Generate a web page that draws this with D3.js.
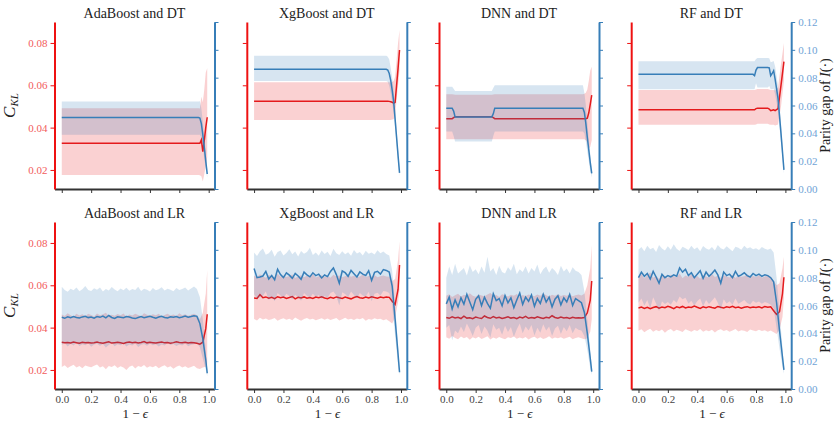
<!DOCTYPE html>
<html>
<head>
<meta charset="utf-8">
<script src="https://cdn.jsdelivr.net/npm/d3@7"></script>
<style>
  body { margin: 0; background: #fff; }
  svg { display: block; }
  text { font-family: "Liberation Serif", "DejaVu Serif", serif; }
</style>
</head>
<body>
<svg width="836" height="423"></svg>
<script>
// ---- data ----
var titles = ["AdaBoost and DT", "XgBoost and DT", "DNN and DT", "RF and DT",
  "AdaBoost and LR", "XgBoost and LR", "DNN and LR", "RF and LR"];

var xTicks = [0, 0.2, 0.4, 0.6, 0.8, 1.0];
var leftTicks = [0.02, 0.04, 0.06, 0.08];
var rightTicks = [0, 0.02, 0.04, 0.06, 0.08, 0.10, 0.12];

// DT panels: mostly flat, given at breakpoints
var adaDT_x = [0, 0.93, 0.94, 0.95, 0.96, 0.97, 0.98, 0.99];
var adaDT_red = [0.0326, 0.0326, 0.0326, 0.0342, 0.0287, 0.0340, 0.0400, 0.0449];
var adaDT_redLo = [0.0176, 0.0176, 0.0175, 0.0170, 0.0145, 0.0180, 0.0220, 0.0260];
var adaDT_redHi = [0.0491, 0.0491, 0.0490, 0.0546, 0.0520, 0.0580, 0.0660, 0.0680];
var adaDT_blue = [0.0513, 0.0513, 0.0510, 0.0470, 0.0390, 0.0300, 0.0200, 0.0108];
var adaDT_blueLo = [0.0390, 0.0390, 0.0390, 0.0370, 0.0300, 0.0220, 0.0140, 0.0080];
var adaDT_blueHi = [0.0629, 0.0629, 0.0630, 0.0580, 0.0480, 0.0380, 0.0260, 0.0140];

var xgbDT_x = [0, 0.90, 0.91, 0.92, 0.93, 0.94, 0.95, 0.96, 0.97, 0.98, 0.99];
var xgbDT_red = [0.0525, 0.0525, 0.0525, 0.0524, 0.0522, 0.0520, 0.0515, 0.0520, 0.0600, 0.0680, 0.0767];
var xgbDT_redLo = [0.0436, 0.0436, 0.0436, 0.0436, 0.0436, 0.0438, 0.0440, 0.0460, 0.0530, 0.0600, 0.0670];
var xgbDT_redHi = [0.0614, 0.0614, 0.0614, 0.0614, 0.0612, 0.0615, 0.0620, 0.0640, 0.0720, 0.0800, 0.0861];
var xgbDT_blue = [0.0860, 0.0860, 0.0855, 0.0830, 0.0780, 0.0710, 0.0630, 0.0500, 0.0370, 0.0240, 0.0116];
var xgbDT_blueLo = [0.0776, 0.0776, 0.0770, 0.0740, 0.0690, 0.0620, 0.0550, 0.0440, 0.0320, 0.0200, 0.0090];
var xgbDT_blueHi = [0.0957, 0.0957, 0.0950, 0.0930, 0.0870, 0.0800, 0.0710, 0.0570, 0.0430, 0.0290, 0.0150];

var dnnDT_x = [0, 0.04, 0.05, 0.06, 0.31, 0.32, 0.33, 0.93, 0.94, 0.95, 0.96, 0.97, 0.98, 0.99];
var dnnDT_red = [0.0442, 0.0442, 0.0447, 0.0451, 0.0451, 0.0447, 0.0442, 0.0442, 0.0442, 0.0442, 0.0445, 0.0470, 0.0510, 0.0554];
var dnnDT_redLo = [0.0345, 0.0345, 0.0345, 0.0345, 0.0345, 0.0345, 0.0345, 0.0345, 0.0345, 0.0340, 0.0330, 0.0300, 0.0310, 0.0340];
var dnnDT_redHi = [0.0558, 0.0558, 0.0557, 0.0555, 0.0555, 0.0557, 0.0558, 0.0558, 0.0560, 0.0565, 0.0580, 0.0620, 0.0670, 0.0688];
var dnnDT_blue = [0.0581, 0.0581, 0.0560, 0.0518, 0.0518, 0.0540, 0.0581, 0.0581, 0.0550, 0.0470, 0.0370, 0.0280, 0.0190, 0.0113];
var dnnDT_blueLo = [0.0414, 0.0414, 0.0380, 0.0342, 0.0342, 0.0380, 0.0414, 0.0414, 0.0400, 0.0340, 0.0270, 0.0200, 0.0130, 0.0080];
var dnnDT_blueHi = [0.0735, 0.0735, 0.0720, 0.0704, 0.0704, 0.0725, 0.0745, 0.0745, 0.0690, 0.0600, 0.0480, 0.0360, 0.0250, 0.0140];

var rfDT_x = [0, 0.78, 0.79, 0.80, 0.81, 0.88, 0.89, 0.90, 0.91, 0.92, 0.93, 0.95, 0.97, 0.99];
var rfDT_red = [0.0484, 0.0484, 0.0484, 0.0490, 0.0492, 0.0492, 0.0488, 0.0480, 0.0482, 0.0484, 0.0480, 0.0490, 0.0600, 0.0712];
var rfDT_redLo = [0.0413, 0.0413, 0.0413, 0.0415, 0.0418, 0.0418, 0.0415, 0.0413, 0.0413, 0.0413, 0.0410, 0.0415, 0.0500, 0.0620];
var rfDT_redHi = [0.0578, 0.0578, 0.0578, 0.0580, 0.0582, 0.0582, 0.0580, 0.0578, 0.0578, 0.0578, 0.0575, 0.0590, 0.0700, 0.0800];
var rfDT_blue = [0.0824, 0.0824, 0.0815, 0.0855, 0.0873, 0.0873, 0.0870, 0.0814, 0.0830, 0.0850, 0.0790, 0.0650, 0.0400, 0.0137];
var rfDT_blueLo = [0.0716, 0.0716, 0.0716, 0.0760, 0.0730, 0.0730, 0.0740, 0.0716, 0.0716, 0.0720, 0.0680, 0.0560, 0.0330, 0.0110];
var rfDT_blueHi = [0.0918, 0.0918, 0.0918, 0.0935, 0.0942, 0.0942, 0.0940, 0.0910, 0.0915, 0.0920, 0.0880, 0.0740, 0.0470, 0.0160];

// LR panels: noisy, shared grid of 1 - eps
var xLR = [
  0, 0.02, 0.04, 0.06, 0.08, 0.10, 0.12, 0.14, 0.16, 0.18,
  0.20, 0.22, 0.24, 0.26, 0.28, 0.30, 0.32, 0.34, 0.36, 0.38,
  0.40, 0.42, 0.44, 0.46, 0.48, 0.50, 0.52, 0.54, 0.56, 0.58,
  0.60, 0.62, 0.64, 0.66, 0.68, 0.70, 0.72, 0.74, 0.76, 0.78,
  0.80, 0.82, 0.84, 0.86, 0.88, 0.90, 0.92, 0.94, 0.96, 0.98,
  0.99];

var adaLR_red = [
  0.0331, 0.0328, 0.0330, 0.0327, 0.0332, 0.0329, 0.0326, 0.0331, 0.0328, 0.0330,
  0.0327, 0.0329, 0.0332, 0.0328, 0.0326, 0.0330, 0.0333, 0.0327, 0.0329, 0.0331,
  0.0328, 0.0325, 0.0330, 0.0332, 0.0329, 0.0331, 0.0327, 0.0330, 0.0334, 0.0328,
  0.0331, 0.0329, 0.0327, 0.0330, 0.0332, 0.0328, 0.0330, 0.0326, 0.0329, 0.0333,
  0.0330, 0.0328, 0.0331, 0.0327, 0.0330, 0.0329, 0.0326, 0.0322, 0.0331, 0.0395,
  0.0463];
var adaLR_redLo = [
  0.0214, 0.0222, 0.0209, 0.0218, 0.0225, 0.0212, 0.0219, 0.0208, 0.0221, 0.0216,
  0.0213, 0.0220, 0.0226, 0.0211, 0.0217, 0.0203, 0.0219, 0.0214, 0.0222, 0.0209,
  0.0218, 0.0212, 0.0200, 0.0215, 0.0221, 0.0207, 0.0219, 0.0214, 0.0223, 0.0210,
  0.0217, 0.0213, 0.0220, 0.0208, 0.0216, 0.0222, 0.0211, 0.0218, 0.0206, 0.0215,
  0.0221, 0.0212, 0.0217, 0.0209, 0.0214, 0.0220, 0.0208, 0.0205, 0.0212, 0.0215,
  0.0225];
var adaLR_redHi = [
  0.0462, 0.0455, 0.0468, 0.0459, 0.0451, 0.0465, 0.0457, 0.0463, 0.0454, 0.0466,
  0.0460, 0.0452, 0.0467, 0.0458, 0.0463, 0.0470, 0.0455, 0.0461, 0.0456, 0.0464,
  0.0459, 0.0467, 0.0453, 0.0462, 0.0457, 0.0465, 0.0460, 0.0454, 0.0468, 0.0461,
  0.0456, 0.0463, 0.0458, 0.0466, 0.0452, 0.0460, 0.0465, 0.0457, 0.0462, 0.0455,
  0.0468, 0.0459, 0.0463, 0.0456, 0.0461, 0.0465, 0.0458, 0.0440, 0.0470, 0.0560,
  0.0672];
var adaLR_blue = [
  0.0515, 0.0508, 0.0519, 0.0512, 0.0521, 0.0514, 0.0510, 0.0518, 0.0523, 0.0513,
  0.0517, 0.0509, 0.0520, 0.0515, 0.0524, 0.0511, 0.0528, 0.0514, 0.0507, 0.0519,
  0.0516, 0.0512, 0.0521, 0.0517, 0.0510, 0.0506, 0.0514, 0.0520, 0.0513, 0.0518,
  0.0522, 0.0515, 0.0509, 0.0517, 0.0523, 0.0514, 0.0511, 0.0519, 0.0516, 0.0521,
  0.0513, 0.0518, 0.0524, 0.0516, 0.0521, 0.0527, 0.0522, 0.0470, 0.0360, 0.0210,
  0.0113];
var adaLR_blueLo = [
  0.0318, 0.0330, 0.0305, 0.0325, 0.0312, 0.0333, 0.0309, 0.0321, 0.0314, 0.0328,
  0.0303, 0.0319, 0.0326, 0.0311, 0.0323, 0.0298, 0.0317, 0.0331, 0.0308, 0.0322,
  0.0315, 0.0327, 0.0306, 0.0320, 0.0313, 0.0329, 0.0302, 0.0318, 0.0324, 0.0310,
  0.0327, 0.0314, 0.0321, 0.0305, 0.0319, 0.0312, 0.0330, 0.0316, 0.0323, 0.0309,
  0.0320, 0.0313, 0.0328, 0.0307, 0.0318, 0.0322, 0.0330, 0.0300, 0.0220, 0.0140,
  0.0090];
var adaLR_blueHi = [
  0.0735, 0.0712, 0.0698, 0.0721, 0.0709, 0.0730, 0.0703, 0.0716, 0.0740, 0.0711,
  0.0705, 0.0724, 0.0713, 0.0729, 0.0700, 0.0718, 0.0708, 0.0733, 0.0715, 0.0702,
  0.0722, 0.0710, 0.0727, 0.0706, 0.0719, 0.0712, 0.0735, 0.0704, 0.0720, 0.0714,
  0.0701, 0.0726, 0.0709, 0.0717, 0.0731, 0.0707, 0.0721, 0.0713, 0.0703, 0.0725,
  0.0711, 0.0719, 0.0730, 0.0708, 0.0722, 0.0736, 0.0718, 0.0660, 0.0500, 0.0280,
  0.0140];

var xgbLR_red = [
  0.0540, 0.0538, 0.0556, 0.0541, 0.0545, 0.0539, 0.0543, 0.0537, 0.0546, 0.0541,
  0.0544, 0.0538, 0.0542, 0.0547, 0.0536, 0.0543, 0.0540, 0.0545, 0.0539, 0.0542,
  0.0538, 0.0544, 0.0541, 0.0546, 0.0540, 0.0537, 0.0543, 0.0539, 0.0545, 0.0541,
  0.0538, 0.0544, 0.0540, 0.0536, 0.0542, 0.0547, 0.0541, 0.0539, 0.0544, 0.0540,
  0.0546, 0.0542, 0.0539, 0.0544, 0.0541, 0.0545, 0.0543, 0.0525, 0.0510, 0.0580,
  0.0696];
var xgbLR_redLo = [
  0.0441, 0.0434, 0.0447, 0.0438, 0.0443, 0.0436, 0.0440, 0.0445, 0.0432, 0.0439,
  0.0444, 0.0437, 0.0442, 0.0435, 0.0448, 0.0439, 0.0433, 0.0441, 0.0446, 0.0438,
  0.0442, 0.0435, 0.0440, 0.0444, 0.0437, 0.0443, 0.0436, 0.0441, 0.0445, 0.0434,
  0.0440, 0.0447, 0.0438, 0.0442, 0.0436, 0.0443, 0.0439, 0.0445, 0.0433, 0.0441,
  0.0437, 0.0444, 0.0439, 0.0442, 0.0435, 0.0440, 0.0430, 0.0420, 0.0450, 0.0520,
  0.0580];
var xgbLR_redHi = [
  0.0645, 0.0638, 0.0652, 0.0641, 0.0636, 0.0649, 0.0643, 0.0637, 0.0655, 0.0640,
  0.0646, 0.0639, 0.0644, 0.0651, 0.0635, 0.0642, 0.0648, 0.0638, 0.0645, 0.0640,
  0.0653, 0.0637, 0.0643, 0.0647, 0.0639, 0.0644, 0.0636, 0.0650, 0.0641, 0.0646,
  0.0638, 0.0643, 0.0649, 0.0640, 0.0645, 0.0637, 0.0642, 0.0651, 0.0639, 0.0644,
  0.0640, 0.0647, 0.0638, 0.0643, 0.0646, 0.0641, 0.0640, 0.0620, 0.0630, 0.0720,
  0.0807];
var xgbLR_blue = [
  0.0866, 0.0800, 0.0805, 0.0812, 0.0845, 0.0790, 0.0815, 0.0785, 0.0860, 0.0822,
  0.0801, 0.0835, 0.0818, 0.0795, 0.0830, 0.0812, 0.0788, 0.0840, 0.0820, 0.0806,
  0.0835, 0.0815, 0.0825, 0.0798, 0.0819, 0.0808, 0.0845, 0.0870, 0.0822, 0.0760,
  0.0848, 0.0836, 0.0810, 0.0852, 0.0828, 0.0805, 0.0842, 0.0825, 0.0816, 0.0850,
  0.0780, 0.0838, 0.0846, 0.0826, 0.0858, 0.0852, 0.0840, 0.0740, 0.0500, 0.0250,
  0.0120];
var xgbLR_blueLo = [
  0.0680, 0.0650, 0.0660, 0.0670, 0.0700, 0.0640, 0.0665, 0.0630, 0.0690, 0.0672,
  0.0655, 0.0685, 0.0668, 0.0645, 0.0678, 0.0660, 0.0635, 0.0690, 0.0670, 0.0656,
  0.0684, 0.0662, 0.0675, 0.0648, 0.0668, 0.0655, 0.0690, 0.0700, 0.0672, 0.0600,
  0.0695, 0.0682, 0.0660, 0.0700, 0.0675, 0.0652, 0.0690, 0.0672, 0.0664, 0.0698,
  0.0630, 0.0685, 0.0692, 0.0672, 0.0705, 0.0700, 0.0690, 0.0600, 0.0380, 0.0170,
  0.0100];
var xgbLR_blueHi = [
  0.0980, 0.0955, 0.0990, 0.1010, 0.0965, 0.0975, 0.1000, 0.0950, 0.0985, 0.0995,
  0.0960, 0.0978, 0.1005, 0.0968, 0.0988, 0.0952, 0.0992, 0.0972, 0.0984, 0.1015,
  0.0962, 0.0980, 0.0958, 0.0996, 0.0970, 0.0987, 0.0955, 0.1008, 0.0976, 0.0963,
  0.0990, 0.0968, 0.0982, 0.0957, 0.0998, 0.0974, 0.0985, 0.0960, 0.0993, 0.0971,
  0.0981, 0.0966, 0.0997, 0.0975, 0.0988, 0.0970, 0.0960, 0.0850, 0.0600, 0.0320,
  0.0140];

var dnnLR_red = [
  0.0448, 0.0444, 0.0451, 0.0446, 0.0449, 0.0443, 0.0454, 0.0445, 0.0447, 0.0442,
  0.0450, 0.0446, 0.0443, 0.0455, 0.0448, 0.0444, 0.0452, 0.0446, 0.0449, 0.0443,
  0.0447, 0.0451, 0.0445, 0.0448, 0.0442, 0.0450, 0.0446, 0.0453, 0.0444, 0.0448,
  0.0445, 0.0451, 0.0447, 0.0443, 0.0449, 0.0446, 0.0456, 0.0448, 0.0444, 0.0450,
  0.0446, 0.0448, 0.0443, 0.0449, 0.0445, 0.0447, 0.0446, 0.0448, 0.0470, 0.0530,
  0.0620];
var dnnLR_redLo = [
  0.0355, 0.0348, 0.0360, 0.0351, 0.0345, 0.0358, 0.0350, 0.0356, 0.0343, 0.0354,
  0.0349, 0.0357, 0.0346, 0.0352, 0.0359, 0.0344, 0.0353, 0.0348, 0.0356, 0.0350,
  0.0345, 0.0355, 0.0351, 0.0358, 0.0347, 0.0353, 0.0349, 0.0356, 0.0344, 0.0352,
  0.0357, 0.0348, 0.0354, 0.0346, 0.0351, 0.0359, 0.0347, 0.0353, 0.0350, 0.0355,
  0.0348, 0.0352, 0.0357, 0.0345, 0.0351, 0.0354, 0.0350, 0.0345, 0.0350, 0.0380,
  0.0440];
var dnnLR_redHi = [
  0.0550, 0.0558, 0.0545, 0.0553, 0.0560, 0.0547, 0.0555, 0.0549, 0.0562, 0.0551,
  0.0546, 0.0557, 0.0552, 0.0548, 0.0556, 0.0563, 0.0550, 0.0554, 0.0545, 0.0558,
  0.0553, 0.0547, 0.0555, 0.0551, 0.0559, 0.0546, 0.0554, 0.0549, 0.0557, 0.0552,
  0.0548, 0.0556, 0.0550, 0.0561, 0.0553, 0.0547, 0.0555, 0.0551, 0.0558, 0.0549,
  0.0554, 0.0550, 0.0556, 0.0548, 0.0553, 0.0557, 0.0552, 0.0560, 0.0600, 0.0680,
  0.0790];
var dnnLR_blue = [
  0.0612, 0.0660, 0.0575, 0.0640, 0.0590, 0.0655, 0.0610, 0.0680, 0.0625, 0.0570,
  0.0645, 0.0670, 0.0600, 0.0660, 0.0615, 0.0580, 0.0685, 0.0635, 0.0650, 0.0598,
  0.0672, 0.0620, 0.0655, 0.0585, 0.0640, 0.0690, 0.0608, 0.0660, 0.0630, 0.0675,
  0.0595, 0.0650, 0.0615, 0.0680, 0.0625, 0.0660, 0.0590, 0.0645, 0.0670, 0.0605,
  0.0655, 0.0625, 0.0680, 0.0600, 0.0650, 0.0635, 0.0620, 0.0550, 0.0400, 0.0220,
  0.0125];
var dnnLR_blueLo = [
  0.0440, 0.0460, 0.0350, 0.0420, 0.0400, 0.0450, 0.0410, 0.0470, 0.0430, 0.0380,
  0.0440, 0.0460, 0.0395, 0.0450, 0.0420, 0.0370, 0.0465, 0.0425, 0.0440, 0.0390,
  0.0455, 0.0410, 0.0445, 0.0375, 0.0430, 0.0470, 0.0400, 0.0450, 0.0420, 0.0460,
  0.0385, 0.0440, 0.0405, 0.0465, 0.0420, 0.0450, 0.0380, 0.0435, 0.0455, 0.0395,
  0.0445, 0.0415, 0.0460, 0.0400, 0.0440, 0.0425, 0.0420, 0.0380, 0.0280, 0.0150,
  0.0100];
var dnnLR_blueHi = [
  0.0800, 0.0880, 0.0820, 0.0900, 0.0830, 0.0850, 0.0870, 0.0815, 0.0890, 0.0840,
  0.0860, 0.0825, 0.0880, 0.0835, 0.0950, 0.0845, 0.0870, 0.0820, 0.0885, 0.0840,
  0.0830, 0.0875, 0.0850, 0.0900, 0.0825, 0.0860, 0.0840, 0.0880, 0.0830, 0.0870,
  0.0845, 0.0895, 0.0825, 0.0860, 0.0880, 0.0835, 0.0870, 0.0850, 0.0820, 0.0885,
  0.0845, 0.0865, 0.0830, 0.0875, 0.0850, 0.0840, 0.0820, 0.0700, 0.0500, 0.0280,
  0.0150];

var rfLR_red = [
  0.0493, 0.0497, 0.0491, 0.0496, 0.0489, 0.0495, 0.0499, 0.0492, 0.0497, 0.0494,
  0.0501, 0.0496, 0.0490, 0.0498, 0.0494, 0.0500, 0.0493, 0.0497, 0.0495, 0.0502,
  0.0496, 0.0491, 0.0498, 0.0494, 0.0499, 0.0495, 0.0492, 0.0500, 0.0496, 0.0493,
  0.0498, 0.0495, 0.0501, 0.0494, 0.0497, 0.0492, 0.0496, 0.0499, 0.0494, 0.0497,
  0.0495, 0.0498, 0.0493, 0.0500, 0.0496, 0.0498, 0.0480, 0.0462, 0.0475, 0.0560,
  0.0638];
var rfLR_redLo = [
  0.0385, 0.0392, 0.0378, 0.0388, 0.0395, 0.0381, 0.0389, 0.0383, 0.0391, 0.0376,
  0.0387, 0.0393, 0.0382, 0.0390, 0.0385, 0.0379, 0.0392, 0.0386, 0.0380, 0.0389,
  0.0384, 0.0394, 0.0381, 0.0388, 0.0383, 0.0390, 0.0377, 0.0387, 0.0392, 0.0384,
  0.0389, 0.0380, 0.0386, 0.0393, 0.0382, 0.0388, 0.0385, 0.0379, 0.0391, 0.0386,
  0.0383, 0.0390, 0.0384, 0.0388, 0.0381, 0.0386, 0.0378, 0.0370, 0.0390, 0.0450,
  0.0540];
var rfLR_redHi = [
  0.0640, 0.0655, 0.0632, 0.0648, 0.0660, 0.0636, 0.0645, 0.0630, 0.0652, 0.0641,
  0.0635, 0.0650, 0.0643, 0.0638, 0.0656, 0.0633, 0.0646, 0.0640, 0.0651, 0.0637,
  0.0644, 0.0631, 0.0649, 0.0642, 0.0636, 0.0653, 0.0639, 0.0645, 0.0634, 0.0648,
  0.0641, 0.0637, 0.0650, 0.0635, 0.0646, 0.0640, 0.0643, 0.0652, 0.0638, 0.0644,
  0.0639, 0.0647, 0.0636, 0.0642, 0.0649, 0.0640, 0.0620, 0.0600, 0.0610, 0.0680,
  0.0735];
var rfLR_blue = [
  0.0800, 0.0840, 0.0810, 0.0830, 0.0790, 0.0845, 0.0805, 0.0760, 0.0825, 0.0800,
  0.0815, 0.0805, 0.0820, 0.0810, 0.0870, 0.0840, 0.0860, 0.0815, 0.0835, 0.0800,
  0.0825, 0.0850, 0.0795, 0.0840, 0.0810, 0.0830, 0.0855, 0.0820, 0.0760, 0.0840,
  0.0815, 0.0825, 0.0800, 0.0845, 0.0810, 0.0820, 0.0835, 0.0815, 0.0805, 0.0830,
  0.0815, 0.0825, 0.0810, 0.0820, 0.0815, 0.0800, 0.0770, 0.0620, 0.0420, 0.0230,
  0.0137];
var rfLR_blueLo = [
  0.0620, 0.0650, 0.0600, 0.0640, 0.0580, 0.0660, 0.0615, 0.0560, 0.0630, 0.0610,
  0.0625, 0.0605, 0.0640, 0.0620, 0.0665, 0.0645, 0.0655, 0.0615, 0.0635, 0.0600,
  0.0630, 0.0650, 0.0595, 0.0640, 0.0610, 0.0635, 0.0660, 0.0620, 0.0570, 0.0645,
  0.0615, 0.0630, 0.0605, 0.0650, 0.0612, 0.0625, 0.0640, 0.0618, 0.0608, 0.0635,
  0.0620, 0.0628, 0.0612, 0.0625, 0.0618, 0.0605, 0.0580, 0.0440, 0.0290, 0.0160,
  0.0110];
var rfLR_blueHi = [
  0.1000, 0.1020, 0.0990, 0.1030, 0.1005, 0.1015, 0.0985, 0.1035, 0.1010, 0.0995,
  0.1025, 0.1000, 0.1040, 0.1008, 0.0992, 0.1022, 0.1012, 0.0998, 0.1030, 0.1005,
  0.1018, 0.0990, 0.1028, 0.1010, 0.1000, 0.1020, 0.0995, 0.1035, 0.1012, 0.1002,
  0.1025, 0.1008, 0.0990, 0.1022, 0.1015, 0.1000, 0.1030, 0.1010, 0.1018, 0.1005,
  0.1012, 0.0998, 0.1020, 0.1008, 0.1000, 0.1010, 0.0980, 0.0800, 0.0550, 0.0300,
  0.0160];

// ---- panel table built from the arrays ----
var panels = [
  {x: adaDT_x, red: adaDT_red, redLo: adaDT_redLo, redHi: adaDT_redHi, blue: adaDT_blue, blueLo: adaDT_blueLo, blueHi: adaDT_blueHi},
  {x: xgbDT_x, red: xgbDT_red, redLo: xgbDT_redLo, redHi: xgbDT_redHi, blue: xgbDT_blue, blueLo: xgbDT_blueLo, blueHi: xgbDT_blueHi},
  {x: dnnDT_x, red: dnnDT_red, redLo: dnnDT_redLo, redHi: dnnDT_redHi, blue: dnnDT_blue, blueLo: dnnDT_blueLo, blueHi: dnnDT_blueHi},
  {x: rfDT_x, red: rfDT_red, redLo: rfDT_redLo, redHi: rfDT_redHi, blue: rfDT_blue, blueLo: rfDT_blueLo, blueHi: rfDT_blueHi},
  {x: xLR, red: adaLR_red, redLo: adaLR_redLo, redHi: adaLR_redHi, blue: adaLR_blue, blueLo: adaLR_blueLo, blueHi: adaLR_blueHi},
  {x: xLR, red: xgbLR_red, redLo: xgbLR_redLo, redHi: xgbLR_redHi, blue: xgbLR_blue, blueLo: xgbLR_blueLo, blueHi: xgbLR_blueHi},
  {x: xLR, red: dnnLR_red, redLo: dnnLR_redLo, redHi: dnnLR_redHi, blue: dnnLR_blue, blueLo: dnnLR_blueLo, blueHi: dnnLR_blueHi},
  {x: xLR, red: rfLR_red, redLo: rfLR_redLo, redHi: rfLR_redHi, blue: rfLR_blue, blueLo: rfLR_blueLo, blueHi: rfLR_blueHi}
];

// ---- layout ----
var svg = d3.select("svg");
var W = 160, H = 167;
var colLeft = [54.5, 246.8, 439, 631.2];
var rowTop = [22, 222];

var RED = "#e41a1c", BLUE = "#377eb8";
var RED_SPINE = "#ee1111", RED_LABEL = "#f25c5c", BLUE_LABEL = "#6fa3d6";

var x = d3.scaleLinear().domain([-0.0495, 1.0395]).range([0, W]);
var yL = d3.scaleLinear().domain([0.011, 0.0899]).range([H, 0]);
var yR = d3.scaleLinear().domain([0, 0.12]).range([H, 0]);

panels.forEach(function(p, i) {
  var col = i % 4, row = Math.floor(i / 4);
  var g = svg.append("g")
    .attr("transform", "translate(" + colLeft[col] + "," + rowTop[row] + ")");
  var idx = d3.range(p.x.length);

  var redBand = d3.area()
    .x(function(j) { return x(p.x[j]); })
    .y0(function(j) { return yL(p.redLo[j]); })
    .y1(function(j) { return yL(p.redHi[j]); });
  var redLine = d3.line()
    .x(function(j) { return x(p.x[j]); })
    .y(function(j) { return yL(p.red[j]); });
  var blueBand = d3.area()
    .x(function(j) { return x(p.x[j]); })
    .y0(function(j) { return yR(p.blueLo[j]); })
    .y1(function(j) { return yR(p.blueHi[j]); });
  var blueLine = d3.line()
    .x(function(j) { return x(p.x[j]); })
    .y(function(j) { return yR(p.blue[j]); });

  g.append("path").datum(idx).attr("d", redBand)
    .attr("fill", RED).attr("fill-opacity", 0.2);
  g.append("path").datum(idx).attr("d", redLine)
    .attr("fill", "none").attr("stroke", RED).attr("stroke-width", 1.5);
  g.append("path").datum(idx).attr("d", blueBand)
    .attr("fill", BLUE).attr("fill-opacity", 0.2);
  g.append("path").datum(idx).attr("d", blueLine)
    .attr("fill", "none").attr("stroke", BLUE).attr("stroke-width", 1.5);

  // bottom axis
  var xa = g.append("g").attr("transform", "translate(0," + H + ")")
    .call(d3.axisBottom(x).tickValues(xTicks).tickSize(4).tickSizeOuter(0).tickPadding(2)
      .tickFormat(row == 1 ? d3.format(".1f") : ""));
  xa.select(".domain").attr("stroke", "#333").attr("stroke-width", 1.8);
  xa.selectAll(".tick line").attr("stroke", "#333").attr("stroke-width", 1);
  xa.selectAll("text").attr("font-size", 11).attr("fill", "#444")
    .style("font-family", "Liberation Serif");

  // left axis (C_KL)
  var la = g.append("g")
    .call(d3.axisLeft(yL).tickValues(leftTicks).tickSize(4).tickSizeOuter(0)
      .tickFormat(col == 0 ? d3.format(".2f") : ""));
  la.select(".domain").attr("stroke", RED_SPINE).attr("stroke-width", 2);
  la.selectAll(".tick line").attr("stroke", RED_SPINE).attr("stroke-width", 1);
  la.selectAll("text").attr("font-size", 11).attr("fill", RED_LABEL)
    .style("font-family", "Liberation Serif");

  // right axis (parity gap)
  var ra = g.append("g").attr("transform", "translate(" + W + ",0)")
    .call(d3.axisRight(yR).tickValues(rightTicks).tickSize(4).tickSizeOuter(0)
      .tickFormat(col == 3 ? d3.format(".2f") : ""));
  ra.select(".domain").attr("stroke", BLUE).attr("stroke-width", 2);
  ra.selectAll(".tick line").attr("stroke", BLUE).attr("stroke-width", 1);
  ra.selectAll("text").attr("font-size", 11).attr("fill", BLUE_LABEL)
    .style("font-family", "Liberation Serif");

  // title
  g.append("text")
    .attr("x", W / 2).attr("y", -4.5)
    .attr("text-anchor", "middle")
    .attr("font-size", 14).attr("fill", "#222")
    .text(titles[i]);

  if (row == 1) {
    var xl = g.append("text")
      .attr("x", x(0.5)).attr("y", H + 29)
      .attr("text-anchor", "middle")
      .attr("font-size", 13).attr("fill", "#222");
    xl.append("tspan").text("1 \u2212 ");
    xl.append("tspan").attr("font-style", "italic").text("\u03f5");
  }
  if (col == 0) {
    var yl = g.append("text")
      .attr("transform", "translate(-40," + (H / 2) + ") rotate(-90)")
      .attr("text-anchor", "middle")
      .attr("fill", "#222");
    yl.append("tspan").attr("font-size", 17).attr("font-style", "italic").text("C");
    yl.append("tspan").attr("font-size", 11).attr("font-style", "italic")
      .attr("dy", 3).text("KL");
  }
  if (col == 3) {
    var yr = g.append("text")
      .attr("transform", "translate(" + (W + 39) + "," + (H / 2) + ") rotate(-90)")
      .attr("text-anchor", "middle")
      .attr("font-size", 14).attr("fill", "#222");
    yr.append("tspan").text("Parity gap of ");
    yr.append("tspan").attr("font-style", "italic").text("I");
    yr.append("tspan").text("(\u00b7)");
  }
});
</script>
</body>
</html>
